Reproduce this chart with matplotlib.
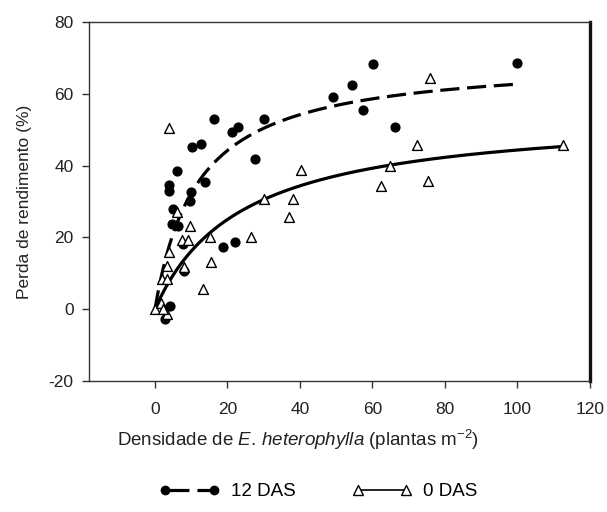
import numpy as np
import matplotlib.pyplot as plt
from matplotlib.lines import Line2D

plt.rcParams['font.family'] = ['Liberation Sans', 'DejaVu Sans']
plt.rcParams['mathtext.fontset'] = 'custom'
plt.rcParams['mathtext.rm'] = 'Liberation Sans'
plt.rcParams['mathtext.it'] = 'Liberation Sans:italic'
plt.rcParams['axes.unicode_minus'] = False

# 12 DAS (observed)
x_12 = [16.3, 22.8, 21.3, 30.1, 10.2, 12.8, 6.1, 3.8, 3.8, 27.7, 13.8, 9.9, 9.7,
        5.0, 4.6, 6.3, 7.8, 18.7, 22.1, 8.1, 4.2, 2.9,
        60.1, 99.8, 54.3, 49.1, 57.3, 66.1]
y_12 = [53.1, 50.7, 49.3, 53.1, 45.2, 46.1, 38.4, 34.7, 33.0, 41.9, 35.3, 32.6, 30.1,
        27.9, 23.6, 23.1, 18.2, 17.3, 18.6, 10.6, 0.8, -2.6,
        68.4, 68.7, 62.4, 59.0, 55.5, 50.7]

# 0 DAS (observed)
x_0 = [75.9, 72.2, 112.6, 40.4, 64.7, 62.4, 75.2, 38.2, 37.0, 4.0, 30.1, 6.0,
       9.7, 7.5, 9.0, 15.2, 26.4, 15.4, 13.2, 3.9, 3.2, 8.1, 1.9, 3.2, 0.0, 1.7, 3.4, 2.2]
y_0 = [64.3, 45.8, 45.8, 38.7, 39.9, 34.3, 35.6, 30.6, 25.6, 50.5, 30.6, 27.2,
       23.1, 19.4, 19.4, 20.1, 20.1, 13.2, 5.5, 15.8, 12.1, 11.8, 8.4, 8.4, 0.1, 1.6, -1.4, 0.1]

# hyperbolic fits  Y = I*x / (1 + I*x/A)
I_12, A_12, xmax_12 = 6.0, 70.0, 100
I_0, A_0, xmax_0 = 2.29, 55.0, 113


def cousens(x, i, a):
    return i * x / (1 + i * x / a)


fig = plt.figure(figsize=(6.07, 5.12), dpi=100)
ax = fig.add_axes([0.1466, 0.2559, 0.8254, 0.7011])

xs12 = np.linspace(0, xmax_12, 300)
xs0 = np.linspace(0, xmax_0, 300)
ax.plot(xs12, cousens(xs12, I_12, A_12), color='black', lw=2.3, dashes=(6.0, 2.4))
ax.plot(xs0, cousens(xs0, I_0, A_0), color='black', lw=2.3)

ax.scatter(x_12, y_12, s=40, color='black', zorder=3)
ax.scatter(x_0, y_0, s=50, marker='^', facecolor='white', edgecolor='black',
           linewidths=1.0, zorder=3)

ax.set_xlim(-18.2, 120)
ax.set_ylim(-20, 80)
ax.set_xticks([0, 20, 40, 60, 80, 100, 120])
ax.set_yticks([-20, 0, 20, 40, 60, 80])
ax.tick_params(direction='out', length=5, width=1, labelsize=12.5, color='#333333',
               labelcolor='#222222')
ax.tick_params(axis='x', pad=10)
ax.tick_params(axis='y', pad=6)

for side in ['left', 'bottom', 'top']:
    ax.spines[side].set_linewidth(1.0)
    ax.spines[side].set_color('#333333')
ax.spines['right'].set_linewidth(2.4)
ax.spines['right'].set_color('#111111')

ax.set_ylabel('Perda de rendimento (%)', fontsize=12.5, labelpad=12, color='#222222')
ax.set_xlabel(r'Densidade de $\mathit{E.\,heterophylla}$ (plantas m$^{-2}$)',
              fontsize=13.5, labelpad=12, color='#222222')
ax.xaxis.set_label_coords(0.417, -0.13)

# legend
h12 = Line2D([], [], color='black', lw=2.3, dashes=(7.5, 2.5), marker='o', markersize=6)
h0 = Line2D([], [], color='black', lw=1.2, marker='^', markersize=6.5,
            markerfacecolor='white', markeredgecolor='black')
fig.legend([h12, h0], ['12 DAS', '0 DAS'], loc='center', bbox_to_anchor=(0.525, 0.04),
           ncol=2, frameon=False, numpoints=2, fontsize=13.5, handlelength=3.2,
           columnspacing=3.0, handletextpad=0.6)

fig.savefig('out.png', dpi=100)
